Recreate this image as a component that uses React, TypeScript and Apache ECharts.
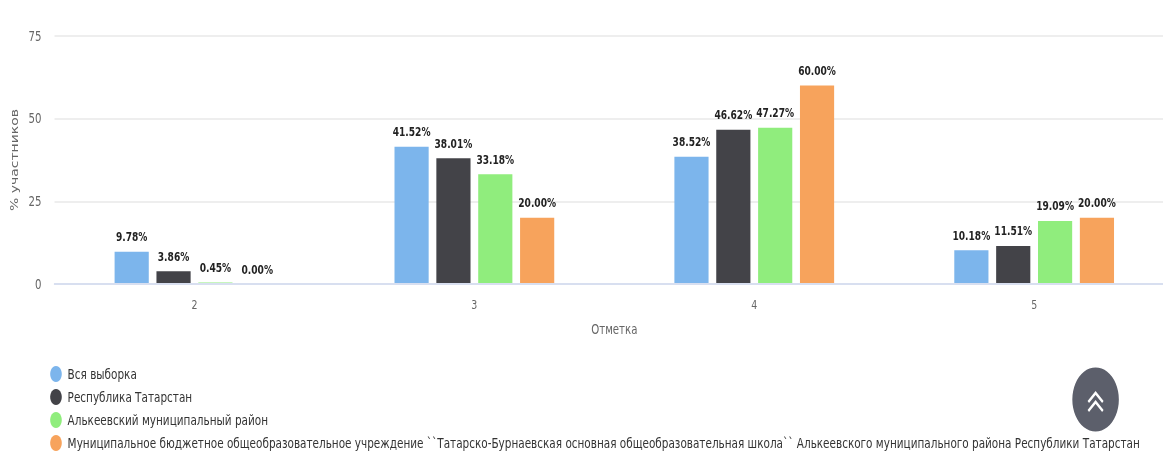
import React, { useEffect, useRef } from "react";
import * as echarts from "echarts";

const categories = ["2", "3", "4", "5"];
const vsyaVyborka = [9.78, 41.52, 38.52, 10.18];
const respublika = [3.86, 38.01, 46.62, 11.51];
const rayon = [0.45, 33.18, 47.27, 19.09];
const shkola = [0.0, 20.0, 60.0, 20.0];
const seriesNames = [
  "Вся выборка",
  "Республика Татарстан",
  "Алькеевский муниципальный район",
  "Муниципальное бюджетное общеобразовательное учреждение ``Татарско-Бурнаевская основная общеобразовательная школа`` Алькеевского муниципального района Республики Татарстан",
];
const colors = ["#7cb5ec", "#434348", "#90ed7d", "#f7a35c"];
const FONT = "'DejaVu Sans', sans-serif";
const SQUEEZE = 0.727;
const WIDE = 1620;

export default function App() {
  const ref = useRef<HTMLDivElement>(null);
  useEffect(() => {
    const chart = echarts.init(ref.current!, null, { renderer: "svg" });
    const values = [vsyaVyborka, respublika, rayon, shkola];
    chart.setOption({
      animation: false,
      textStyle: { fontFamily: FONT },
      grid: { left: 75, right: 5, top: 36, bottom: 168 },
      legend: {
        orient: "vertical",
        left: 69,
        top: 366,
        height: 120,
        padding: 0,
        itemWidth: 16,
        itemHeight: 16,
        itemGap: 7,
        icon: "circle",
        textStyle: { fontFamily: FONT, fontSize: 14.4, color: "#333", padding: [0, 0, 0, 3] },
        data: seriesNames,
      },
      xAxis: {
        type: "category",
        data: categories,
        z: 5,
        name: "Отметка",
        nameLocation: "middle",
        nameGap: 38,
        nameTextStyle: { fontFamily: FONT, fontSize: 14, color: "#666" },
        axisTick: { show: false },
        axisLine: { lineStyle: { color: "#d8dff0", width: 2 } },
        axisLabel: { fontFamily: FONT, fontSize: 13, color: "#666", margin: 14 },
      },
      yAxis: {
        type: "value",
        min: 0,
        max: 75,
        interval: 25,
        name: "% участников",
        nameLocation: "middle",
        nameGap: 48,
        nameTextStyle: { fontFamily: FONT, fontSize: 14, color: "#666" },
        splitLine: { lineStyle: { color: "#e8e8e8", width: 1.5 } },
        axisLabel: { fontFamily: FONT, fontSize: 14, color: "#666", margin: 18 },
      },
      series: seriesNames.map((name, i) => ({
        name,
        type: "bar",
        data: values[i],
        barWidth: 47,
        barGap: "22.5%",
        itemStyle: { color: colors[i] },
        label: {
          show: true,
          position: "top",
          distance: 8,
          fontFamily: FONT,
          fontSize: 12.5,
          fontWeight: "bold",
          color: "#222",
          formatter: (p: any) => Number(p.value).toFixed(2) + "%",
        },
      })),
      graphic: [
        { type: "circle", shape: { cx: 1507, cy: 399.5, r: 32 }, style: { fill: "#5c5f6b" } },
        { type: "polyline", shape: { points: [[1497, 402], [1507, 393], [1517, 402]] }, style: { fill: "none", stroke: "#fff", lineWidth: 3 } },
        { type: "polyline", shape: { points: [[1497, 411], [1507, 402], [1517, 411]] }, style: { fill: "none", stroke: "#fff", lineWidth: 3 } },
      ],
    });
    return () => chart.dispose();
  }, []);
  return (
    <div style={{ position: "fixed", left: 0, top: 0, width: 1163, height: 452, overflow: "hidden" }}>
      <div
        ref={ref}
        style={{ width: WIDE, height: 452, transform: `scaleX(${SQUEEZE})`, transformOrigin: "0 0" }}
      />
    </div>
  );
}
